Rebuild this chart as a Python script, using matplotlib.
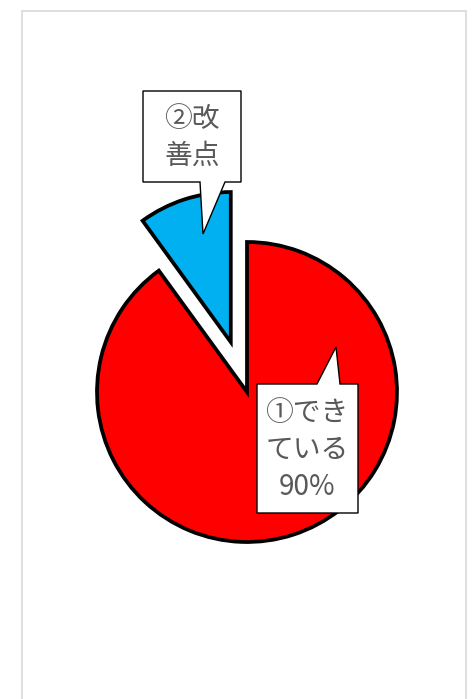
import matplotlib
matplotlib.use("Agg")
import matplotlib.pyplot as plt
from matplotlib.patches import Polygon, Rectangle

plt.rcParams['font.family'] = ['Noto Sans CJK JP', 'DejaVu Sans']

# data
names = ["②改\n善点", "①でき\nている\n90%"]
values = [10, 90]
colors = ["#00B0F0", "#FF0000"]

W, H = 474, 699
fig = plt.figure(figsize=(W / 100, H / 100), dpi=100)
ax = fig.add_axes([0, 0, 1, 1])

radius = 150
ax.pie(values, colors=colors, startangle=90, radius=radius,
       center=(247, H - 392), explode=[0.35 * radius, 0],
       wedgeprops=dict(edgecolor="black", linewidth=2.7, joinstyle="miter"),
       frame=True)
ax.set_xlim(0, W)
ax.set_ylim(0, H)
ax.axis('off')

# outer chart border
ax.add_patch(Rectangle((22.5, -10), 443.5, H - 10.5 + 10, fill=False,
                       edgecolor="#D9D9D9", linewidth=1.2))


def flip(pts):
    return [(x, H - y) for x, y in pts]


# callout boxes (pixel layout, measured from top)
box2 = [(143, 91), (241, 91), (241, 182), (225, 182), (203, 234),
        (200, 182), (143, 182)]
box1 = [(257, 384), (317, 384), (336, 347), (340, 384), (358, 384),
        (358, 513), (257, 513)]
for pts in (box2, box1):
    ax.add_patch(Polygon(flip(pts), closed=True, facecolor="white",
                         edgecolor="black", linewidth=1.0, zorder=5))

ax.text(192, H - 137, names[0], ha="center", va="center", fontsize=20,
        color="#595959", linespacing=1.3, zorder=6)
ax.text(307, H - 450, names[1], ha="center", va="center", fontsize=20,
        color="#595959", linespacing=1.3, zorder=6)

fig.savefig("out.png", dpi=100)
